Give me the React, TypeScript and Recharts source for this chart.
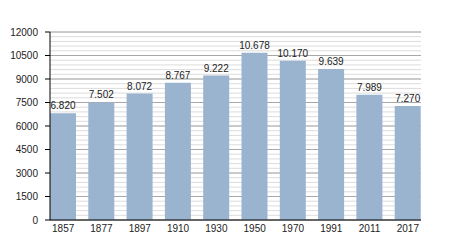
import React from 'react';
import { BarChart, Bar, XAxis, YAxis, CartesianGrid, LabelList } from 'recharts';

const years = ['1857', '1877', '1897', '1910', '1930', '1950', '1970', '1991', '2011', '2017'];
const population = [6820, 7502, 8072, 8767, 9222, 10678, 10170, 9639, 7989, 7270];
const majorTicks = [0, 1500, 3000, 4500, 6000, 7500, 9000, 10500, 12000];
const minorTicks = Array.from({ length: 41 }, (_, i) => i * 300);
const yMax = 12000;

const data = years.map((year, i) => ({ year, value: population[i] }));

const font = { fontFamily: 'Liberation Sans, Arial, sans-serif', fontSize: 10, fill: '#222' };

// light grid lines every 300, placed from the axis scale when available
const minorLines = ({ yAxis, offset }: any) =>
  minorTicks.map((v) =>
    typeof yAxis?.scale === 'function'
      ? yAxis.scale(v)
      : offset.top + offset.height * (1 - v / yMax)
  );

const App: React.FC = () => {
  return (
    <div style={{ position: 'absolute', left: 0, top: 0, width: 450, height: 250, background: '#fff' }}>
      <BarChart width={450} height={250} data={data} margin={{ top: 32, right: 29, bottom: 0, left: 0 }}>
        <CartesianGrid
          yAxisId="main"
          vertical={false}
          stroke="#dcdcdc"
          horizontalCoordinatesGenerator={minorLines}
        />
        <CartesianGrid yAxisId="main" vertical={false} stroke="#a8a8a8" />
        <XAxis
          dataKey="year"
          height={30}
          padding={{ left: -6, right: -6 }}
          tickLine={false}
          tickSize={0}
          tickMargin={5}
          axisLine={{ stroke: '#000' }}
          tick={font}
          interval={0}
        />
        <YAxis
          yAxisId="minor"
          width={0}
          domain={[0, yMax]}
          ticks={minorTicks}
          interval={0}
          tick={() => <g />}
          tickSize={3}
          tickLine={{ stroke: '#000' }}
          axisLine={false}
        />
        <YAxis
          yAxisId="main"
          width={50}
          domain={[0, yMax]}
          ticks={majorTicks}
          interval={0}
          tickSize={5}
          tickMargin={7}
          tickLine={{ stroke: '#000' }}
          axisLine={{ stroke: '#000' }}
          tick={font}
        />
        <Bar yAxisId="main" dataKey="value" fill="#9ab3ce" barSize={26} isAnimationActive={false}>
          <LabelList
            dataKey="value"
            position="top"
            offset={4}
            formatter={(v: number) => (v / 1000).toFixed(3)}
            style={font}
          />
        </Bar>
      </BarChart>
    </div>
  );
};

export default App;
